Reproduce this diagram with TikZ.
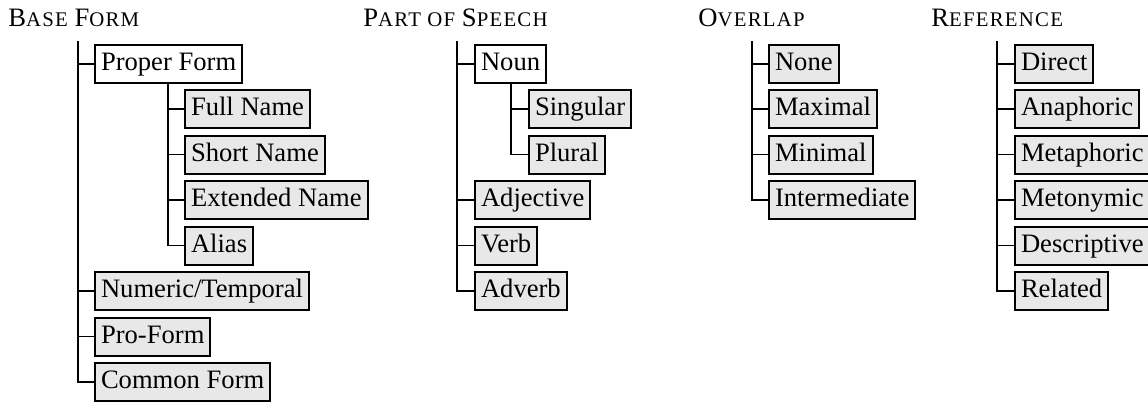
\documentclass[tikz,border=0pt]{standalone}
\usepackage{fontspec}
\setmainfont{Liberation Serif}
\usetikzlibrary{calc}
\newcommand\scfake[1]{{\fontsize{10.4pt}{12pt}\selectfont\addfontfeature{LetterSpace=6}#1}}
\tikzset{
	head/.style={anchor=base west, inner sep=0pt},
	leaf/.style={draw, line width=1pt, fill=black!9, anchor=west, inner xsep=3pt, inner ysep=3.25pt, text height=9.5pt, text depth=3pt},
	branch/.style={leaf, fill=white},
	twig/.style={line width=0.6pt}
}

\begin{document}
\begin{tikzpicture}[x=0.5pt, y=-0.5pt, font=\fontsize{13.3pt}{16pt}\selectfont]
			%%%%% START %%%%%
			\useasboundingbox (0,0) rectangle (1148,403);
			
			% base form
			\node[head] (base) at (8,26) {B\scfake{ASE} F\scfake{ORM}};
			\coordinate (base-r) at (78,41);
			\node[branch] (proper) at (94,64) {Proper Form};
			\coordinate (proper-r) at (168,83);
			\node[leaf] (fullname) at (184,109) {Full Name};
			\node[leaf] (shortname) at (184,154.5) {Short Name};
			\node[leaf] (extname) at (184,200) {Extended Name};
			\node[leaf] (alias) at (184,245.5) {Alias};
			\node[leaf] (numeric) at (94,291) {Numeric/Temporal};
			\node[leaf] (proform) at (94,336.5) {Pro-Form};
			\node[leaf] (common) at (94,382) {Common Form};
			
			\draw[twig] (base-r) |- (proper.west);
			\draw[twig] (base-r) |- (numeric.west);
			\draw[twig] (base-r) |- (proform.west);
			\draw[twig] (base-r) |- (common.west);
			\draw[twig] (proper-r) |- (fullname.west);
			\draw[twig] (proper-r) |- (shortname.west);
			\draw[twig] (proper-r) |- (extname.west);
			\draw[twig] (proper-r) |- (alias.west);
			
			% part of speech
			\node[head] (pos) at (363,26) {P\scfake{ART OF} S\scfake{PEECH}};
			\coordinate (pos-r) at (457,41);
			\node[branch] (noun) at (474,64) {Noun};
			\coordinate (noun-r) at (511,83);
			\node[leaf] (singular) at (528,109) {Singular};
			\node[leaf] (plural) at (528,154.5) {Plural};
			\node[leaf] (adjective) at (474,200) {Adjective};
			\node[leaf] (verb) at (474,245.5) {Verb};
			\node[leaf] (adverb) at (474,291) {Adverb};
			
			\draw[twig] (pos-r) |- (noun.west);
			\draw[twig] (pos-r) |- (adjective.west);
			\draw[twig] (pos-r) |- (verb.west);
			\draw[twig] (pos-r) |- (adverb.west);
			\draw[twig] (noun-r) |- (singular.west);
			\draw[twig] (noun-r) |- (plural.west);
			
			% overlap
			\node[head] (overlap) at (698,26) {O\scfake{VERLAP}};
			\coordinate (overlap-r) at (752,41);
			\node[leaf] (none) at (768,64) {None};
			\node[leaf] (maximal) at (768,109) {Maximal};
			\node[leaf] (minimal) at (768,154.5) {Minimal};
			\node[leaf] (intermediate) at (768,200) {Intermediate};
			
			\draw[twig] (overlap-r) |- (none.west);
			\draw[twig] (overlap-r) |- (maximal.west);
			\draw[twig] (overlap-r) |- (minimal.west);
			\draw[twig] (overlap-r) |- (intermediate.west);
			
			% reference
			\node[head] (reference) at (931,26) {R\scfake{EFERENCE}};
			\coordinate (reference-r) at (997,41);
			\node[leaf] (direct) at (1014,64) {Direct};
			\node[leaf] (anaphoric) at (1014,109) {Anaphoric};
			\node[leaf] (metaphoric) at (1014,154.5) {Metaphoric};
			\node[leaf] (metonymic) at (1014,200) {Metonymic};
			\node[leaf] (descriptive) at (1014,245.5) {Descriptive};
			\node[leaf] (related) at (1014,291) {Related};
			
			\draw[twig] (reference-r) |- (direct.west);
			\draw[twig] (reference-r) |- (anaphoric.west);
			\draw[twig] (reference-r) |- (metaphoric.west);
			\draw[twig] (reference-r) |- (metonymic.west);
			\draw[twig] (reference-r) |- (descriptive.west);
			\draw[twig] (reference-r) |- (related.west);
			
			%%%%% END %%%%%
\end{tikzpicture}
\end{document}
